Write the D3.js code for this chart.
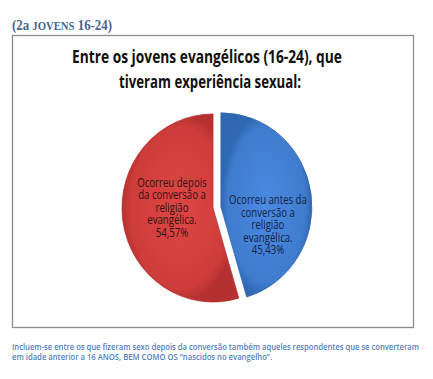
<!DOCTYPE html>
<html><head><meta charset="utf-8">
<script src="https://cdn.jsdelivr.net/npm/d3@7"></script>
<style>
html,body{margin:0;padding:0;background:#fff;}
svg{display:block;}
</style></head>
<body>
<script>
const header = "(2a JOVENS 16-24)";
const titleLines = ["Entre os jovens evangélicos (16-24), que", "tiveram experiência sexual:"];
const categories = ["Ocorreu antes da conversão a religião evangélica.", "Ocorreu depois da conversão a religião evangélica."];
const labelLines = [["Ocorreu antes da","conversão a","religião","evangélica."],["Ocorreu depois","da conversão a","religião","evangélica."]];
const values = [45.43, 54.57];
const valueLabels = ["45,43%", "54,57%"];
const footLines = ["Incluem-se entre os que fizeram sexo depois da conversão também aqueles respondentes que se converteram",
  "em idade anterior a 16 ANOS, BEM COMO OS  \u201cnascidos no evangelho\u201d."];

const W = 433, H = 379;
const FONT = "'Open Sans',Lato,sans-serif";
const svg = d3.select("body").append("svg").attr("width", W).attr("height", H);
const defs = svg.append("defs");

function fit(sel, w){
  const len = sel.node().getComputedTextLength();
  if (len > 0) sel.attr("textLength", w).attr("lengthAdjust", "spacingAndGlyphs");
}
function squeeze(sel, k){
  const len = sel.node().getComputedTextLength();
  if (len > 0) sel.attr("textLength", len * k).attr("lengthAdjust", "spacingAndGlyphs");
}

// header
const hd = svg.append("text").attr("x", 12).attr("y", 30)
  .attr("font-family", "'Liberation Serif',serif").attr("font-weight", "bold")
  .attr("font-size", 15).attr("fill", "#45658f");
hd.append("tspan").text("(2a ");
hd.append("tspan").attr("font-size", 12.5).text("JOVENS");
hd.append("tspan").text(" 16-24)");
fit(hd, 100);

// box
svg.append("rect").attr("x", 12.5).attr("y", 35.5).attr("width", 401).attr("height", 292)
  .attr("fill", "#fff").attr("stroke", "#8c8c8c").attr("stroke-width", 1.3);

// title
const tW = [270, 182];
titleLines.forEach((t, i) => {
  const s = svg.append("text").attr("x", 207 + i*3).attr("y", 63 + i*25).attr("text-anchor", "middle")
    .attr("font-family", FONT).attr("font-weight", "bold").attr("font-size", 18).attr("fill", "#111").text(t);
  fit(s, tW[i]);
});

// pie
const cx = 213, cy = 208, rx = 91, ry = 94;
const colors = [["#4a8ae0", "#2f68b3"], ["#de4643", "#b53030"]];
colors.forEach((c, i) => {
  const g = defs.append("radialGradient").attr("id", "g" + i).attr("cx", "50%").attr("cy", "50%").attr("r", "50%");
  g.append("stop").attr("offset", "0%").attr("stop-color", c[0]);
  g.append("stop").attr("offset", "85%").attr("stop-color", d3.interpolateRgb(c[0], c[1])(0.4));
  g.append("stop").attr("offset", "100%").attr("stop-color", c[1]);
});
const pie = d3.pie().sort(null).value(d => d)(values);
const arc = d3.arc().innerRadius(0).outerRadius(rx);
const explode = [8, 0];
const pg = svg.append("g").attr("transform", `translate(${cx},${cy}) scale(1,${ry/rx})`);
pie.forEach((p, i) => {
  const mid = (p.startAngle + p.endAngle) / 2;
  const dx = explode[i] * Math.sin(mid), dy = -explode[i] * Math.cos(mid);
  pg.append("path").attr("d", arc(p)).attr("transform", `translate(${dx},${dy})`)
    .attr("fill", "url(#g" + i + ")").attr("stroke", colors[i][1]).attr("stroke-width", 0.8);
});

// labels
const labelArc = d3.arc().innerRadius(0).outerRadius(rx);
const labelShift = [[2, 24], [4, -7]];
const labelColor = ["#14233f", "#2e1414"];
const lg = svg.append("g").attr("transform", `translate(${cx},${cy})`);
pie.forEach((p, i) => {
  const mid = (p.startAngle + p.endAngle) / 2;
  const c = labelArc.centroid(p);
  const x = c[0] + explode[i] * Math.sin(mid) + labelShift[i][0];
  const y = c[1] * ry / rx + labelShift[i][1];
  const lines = labelLines[i].concat([valueLabels[i]]);
  lines.forEach((l, j) => {
    const s = lg.append("text").attr("text-anchor", "middle").attr("font-family", FONT)
      .attr("font-size", 12).attr("fill", labelColor[i])
      .attr("x", x).attr("y", y + (j - (lines.length - 1) / 2) * 12.4 + 4).text(l);
    squeeze(s, 0.8);
  });
});

// footer
const fW = [407, 260];
footLines.forEach((t, i) => {
  const s = svg.append("text").attr("x", 12).attr("y", 350 + i*10)
    .attr("font-family", FONT).attr("font-size", 9.5).attr("font-weight", 600).attr("fill", "#5281c2").text(t);
  fit(s, fW[i]);
});
</script>
</body></html>
